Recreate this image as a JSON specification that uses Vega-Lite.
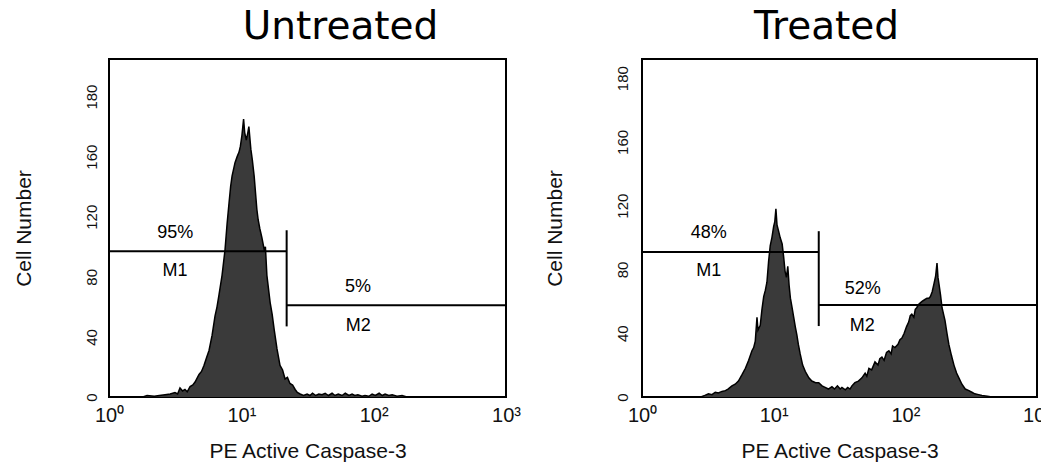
{
  "$schema": "https://vega.github.io/schema/vega-lite/v6.json",
  "padding": {"left": 12, "top": 7, "right": 0, "bottom": 0},
  "background": "white",
  "hconcat": [
    {
      "width": 397,
      "height": 338,
      "title": {"text": "Untreated", "dx": 33},
      "encoding": {
        "x": {"field": "x", "type": "quantitative", "scale": {"type": "log", "domain": [1, 1000], "nice": false}, "axis": {"title": "PE Active Caspase-3", "values": [1, 10, 100, 1000]}},
        "y": {"field": "y", "type": "quantitative", "scale": {"domain": [0, 225], "nice": false, "zero": true}, "axis": {"title": "Cell Number", "values": [0, 40, 80, 120, 160, 200]}}
      },
      "layer": [
        {
          "data": {"values": [
            {"x": 1.8, "y": 0}, {"x": 1.94, "y": 1}, {"x": 2.2, "y": 0.5}, {"x": 2.4, "y": 1}, {"x": 2.65, "y": 1.5}, {"x": 2.9, "y": 2}, {"x": 3.15, "y": 3}, {"x": 3.3, "y": 2}, {"x": 3.44, "y": 6}, {"x": 3.6, "y": 4}, {"x": 3.75, "y": 5}, {"x": 3.9, "y": 3.5}, {"x": 4.1, "y": 7}, {"x": 4.3, "y": 8}, {"x": 4.47, "y": 10}, {"x": 4.79, "y": 15}, {"x": 5.0, "y": 17}, {"x": 5.22, "y": 21}, {"x": 5.45, "y": 26}, {"x": 5.7, "y": 31}, {"x": 6.01, "y": 41}, {"x": 6.33, "y": 54}, {"x": 6.55, "y": 60}, {"x": 6.78, "y": 68}, {"x": 7.15, "y": 81}, {"x": 7.53, "y": 98}, {"x": 7.8, "y": 115}, {"x": 8.07, "y": 129}, {"x": 8.3, "y": 140}, {"x": 8.51, "y": 147}, {"x": 8.96, "y": 156}, {"x": 9.3, "y": 160}, {"x": 9.61, "y": 163}, {"x": 9.84, "y": 167}, {"x": 10.1, "y": 174}, {"x": 10.4, "y": 185}, {"x": 10.6, "y": 176}, {"x": 10.9, "y": 171}, {"x": 11.2, "y": 176}, {"x": 11.4, "y": 180}, {"x": 11.8, "y": 165}, {"x": 12.1, "y": 158}, {"x": 12.5, "y": 147}, {"x": 13.1, "y": 125}, {"x": 13.4, "y": 118}, {"x": 13.8, "y": 112}, {"x": 14.3, "y": 106}, {"x": 14.9, "y": 98}, {"x": 15.2, "y": 100}, {"x": 15.6, "y": 81}, {"x": 16.5, "y": 63}, {"x": 17.1, "y": 55}, {"x": 17.7, "y": 45}, {"x": 18.6, "y": 32}, {"x": 19.6, "y": 21}, {"x": 20.5, "y": 18}, {"x": 21.4, "y": 12}, {"x": 22.3, "y": 13}, {"x": 23.3, "y": 9}, {"x": 24.4, "y": 8}, {"x": 25.5, "y": 5}, {"x": 26.5, "y": 3}, {"x": 27.8, "y": 2}, {"x": 29.5, "y": 1}, {"x": 31.4, "y": 2}, {"x": 33, "y": 1}, {"x": 34.5, "y": 2.5}, {"x": 36.5, "y": 1}, {"x": 38.5, "y": 2}, {"x": 40.7, "y": 1.5}, {"x": 43, "y": 2.5}, {"x": 45.5, "y": 1}, {"x": 48.5, "y": 2.5}, {"x": 51, "y": 1}, {"x": 54, "y": 2}, {"x": 57.7, "y": 1}, {"x": 61, "y": 2.5}, {"x": 65, "y": 1}, {"x": 68.7, "y": 2}, {"x": 72, "y": 1}, {"x": 76, "y": 1.5}, {"x": 81.7, "y": 0.5}, {"x": 86, "y": 1}, {"x": 92, "y": 0.5}, {"x": 97.3, "y": 2}, {"x": 103, "y": 1}, {"x": 110, "y": 2.5}, {"x": 116, "y": 1}, {"x": 122, "y": 2}, {"x": 130, "y": 1}, {"x": 138, "y": 1.5}, {"x": 150, "y": 0.5}, {"x": 164, "y": 1}, {"x": 178, "y": 0}
          ]},
          "mark": {"type": "area", "color": "#3a3a3a", "opacity": 1, "line": {"color": "black", "strokeWidth": 1.5}}
        },
        {
          "data": {"values": [{"x": 1, "x2": 22, "y": 97}, {"x": 22, "x2": 1000, "y": 61}]},
          "mark": {"type": "rule", "color": "black", "strokeWidth": 2},
          "encoding": {"x2": {"field": "x2"}}
        },
        {
          "data": {"values": [{"x": 22, "y": 47, "y2": 111}]},
          "mark": {"type": "rule", "color": "black", "strokeWidth": 2},
          "encoding": {"y2": {"field": "y2"}}
        },
        {
          "data": {"values": [{"x": 3.17, "y": 109, "label": "95%"}, {"x": 3.15, "y": 84, "label": "M1"}, {"x": 76, "y": 73, "label": "5%"}, {"x": 76.5, "y": 47, "label": "M2"}]},
          "mark": {"type": "text", "fontSize": 18, "color": "black", "font": "Liberation Sans"},
          "encoding": {"text": {"field": "label"}}
        }
      ]
    },
    {
      "width": 395,
      "height": 338,
      "title": {"text": "Treated", "dx": -13},
      "encoding": {
        "x": {"field": "x", "type": "quantitative", "scale": {"type": "log", "domain": [1, 1000], "nice": false}, "axis": {"title": "PE Active Caspase-3", "values": [1, 10, 100, 1000]}},
        "y": {"field": "y", "type": "quantitative", "scale": {"domain": [0, 212], "nice": false, "zero": true}, "axis": {"title": "Cell Number", "labelPadding": 12, "values": [0, 40, 80, 120, 160, 200]}}
      },
      "layer": [
        {
          "data": {"values": [
            {"x": 2.8, "y": 0}, {"x": 3.0, "y": 1}, {"x": 3.2, "y": 2}, {"x": 3.4, "y": 1.5}, {"x": 3.6, "y": 3}, {"x": 3.8, "y": 2.5}, {"x": 4.05, "y": 3.5}, {"x": 4.3, "y": 4}, {"x": 4.5, "y": 5}, {"x": 4.82, "y": 7}, {"x": 5.1, "y": 8}, {"x": 5.4, "y": 10}, {"x": 5.75, "y": 14}, {"x": 6.1, "y": 18}, {"x": 6.46, "y": 23}, {"x": 6.84, "y": 29}, {"x": 7.05, "y": 31}, {"x": 7.25, "y": 35}, {"x": 7.47, "y": 50}, {"x": 7.6, "y": 42}, {"x": 7.91, "y": 45}, {"x": 8.15, "y": 55}, {"x": 8.4, "y": 63}, {"x": 8.65, "y": 67}, {"x": 8.89, "y": 72}, {"x": 9.15, "y": 85}, {"x": 9.42, "y": 95}, {"x": 9.7, "y": 100}, {"x": 10.0, "y": 107}, {"x": 10.2, "y": 110}, {"x": 10.4, "y": 118}, {"x": 10.6, "y": 108}, {"x": 10.9, "y": 104}, {"x": 11.2, "y": 100}, {"x": 11.6, "y": 96}, {"x": 11.9, "y": 88}, {"x": 12.2, "y": 79}, {"x": 12.5, "y": 75}, {"x": 12.8, "y": 82}, {"x": 13.1, "y": 70}, {"x": 13.4, "y": 62}, {"x": 13.8, "y": 56}, {"x": 14.2, "y": 50}, {"x": 14.6, "y": 44}, {"x": 15.0, "y": 39}, {"x": 15.4, "y": 33}, {"x": 15.9, "y": 27}, {"x": 16.6, "y": 20}, {"x": 17.4, "y": 16}, {"x": 18.5, "y": 12}, {"x": 19.5, "y": 10}, {"x": 20.8, "y": 9}, {"x": 22.0, "y": 9}, {"x": 23.3, "y": 7}, {"x": 24.6, "y": 6}, {"x": 26, "y": 5}, {"x": 27.7, "y": 6.5}, {"x": 29, "y": 5}, {"x": 30.5, "y": 7}, {"x": 32, "y": 5}, {"x": 33, "y": 6}, {"x": 35, "y": 4.5}, {"x": 36.5, "y": 6}, {"x": 38, "y": 5}, {"x": 39.3, "y": 7}, {"x": 41.4, "y": 9}, {"x": 44, "y": 10}, {"x": 46.8, "y": 12}, {"x": 49.5, "y": 15}, {"x": 51, "y": 13}, {"x": 52.9, "y": 18}, {"x": 55.5, "y": 17}, {"x": 58.8, "y": 22}, {"x": 62, "y": 20}, {"x": 64, "y": 24}, {"x": 66.4, "y": 25}, {"x": 69, "y": 23}, {"x": 72, "y": 28}, {"x": 75, "y": 29}, {"x": 78, "y": 27}, {"x": 80, "y": 32}, {"x": 83.4, "y": 31}, {"x": 88, "y": 33}, {"x": 91, "y": 36}, {"x": 94.2, "y": 37}, {"x": 98, "y": 40}, {"x": 102, "y": 44}, {"x": 106, "y": 47}, {"x": 109, "y": 51}, {"x": 112, "y": 52}, {"x": 116, "y": 50}, {"x": 119, "y": 55}, {"x": 122, "y": 56}, {"x": 126, "y": 58}, {"x": 130, "y": 59}, {"x": 134, "y": 60}, {"x": 140, "y": 61}, {"x": 146, "y": 62}, {"x": 151, "y": 62}, {"x": 155, "y": 63}, {"x": 160, "y": 66}, {"x": 165, "y": 71}, {"x": 170, "y": 76}, {"x": 174, "y": 84}, {"x": 177, "y": 75}, {"x": 180, "y": 71}, {"x": 185, "y": 64}, {"x": 190, "y": 56}, {"x": 195, "y": 52}, {"x": 200, "y": 48}, {"x": 207, "y": 40}, {"x": 214, "y": 33}, {"x": 224, "y": 26}, {"x": 234, "y": 20}, {"x": 245, "y": 15}, {"x": 255, "y": 12}, {"x": 269, "y": 8}, {"x": 285, "y": 5}, {"x": 304, "y": 4}, {"x": 320, "y": 3}, {"x": 337, "y": 2}, {"x": 360, "y": 1.5}, {"x": 382, "y": 1}, {"x": 420, "y": 0.5}, {"x": 455, "y": 0}
          ]},
          "mark": {"type": "area", "color": "#3a3a3a", "opacity": 1, "line": {"color": "black", "strokeWidth": 1.5}}
        },
        {
          "data": {"values": [{"x": 1, "x2": 22, "y": 91}, {"x": 22, "x2": 1000, "y": 57.7}]},
          "mark": {"type": "rule", "color": "black", "strokeWidth": 2},
          "encoding": {"x2": {"field": "x2"}}
        },
        {
          "data": {"values": [{"x": 22, "y": 44.5, "y2": 104}]},
          "mark": {"type": "rule", "color": "black", "strokeWidth": 2},
          "encoding": {"y2": {"field": "y2"}}
        },
        {
          "data": {"values": [{"x": 3.21, "y": 103, "label": "48%"}, {"x": 3.21, "y": 79, "label": "M1"}, {"x": 47.4, "y": 68, "label": "52%"}, {"x": 47, "y": 44.5, "label": "M2"}]},
          "mark": {"type": "text", "fontSize": 18, "color": "black", "font": "Liberation Sans"},
          "encoding": {"text": {"field": "label"}}
        }
      ]
    }
  ],
  "spacing": 136,
  "bounds": "flush",
  "config": {
    "font": "Liberation Sans",
    "view": {"stroke": "black", "strokeWidth": 2},
    "title": {"font": "DejaVu Sans", "fontSize": 39, "fontWeight": "normal", "color": "black", "anchor": "middle", "offset": 12},
    "axis": {"grid": false, "domain": false, "ticks": false, "labelColor": "#111", "titleColor": "#111", "titleFontWeight": "normal", "labelOverlap": false},
    "axisX": {"labelExpr": "datum.value == 1 ? '10⁰' : datum.value == 10 ? '10¹' : datum.value == 100 ? '10²' : '10³'", "labelFontSize": 20, "labelPadding": 8, "labelFlush": false, "titleFontSize": 21, "titlePadding": 15},
    "axisY": {"labelExpr": "datum.value == 200 ? '180' : datum.label", "labelAngle": -90, "labelAlign": "center", "labelBaseline": "bottom", "labelFontSize": 15, "labelPadding": 10, "titleFontSize": 21, "titlePadding": 50}
  }
}
